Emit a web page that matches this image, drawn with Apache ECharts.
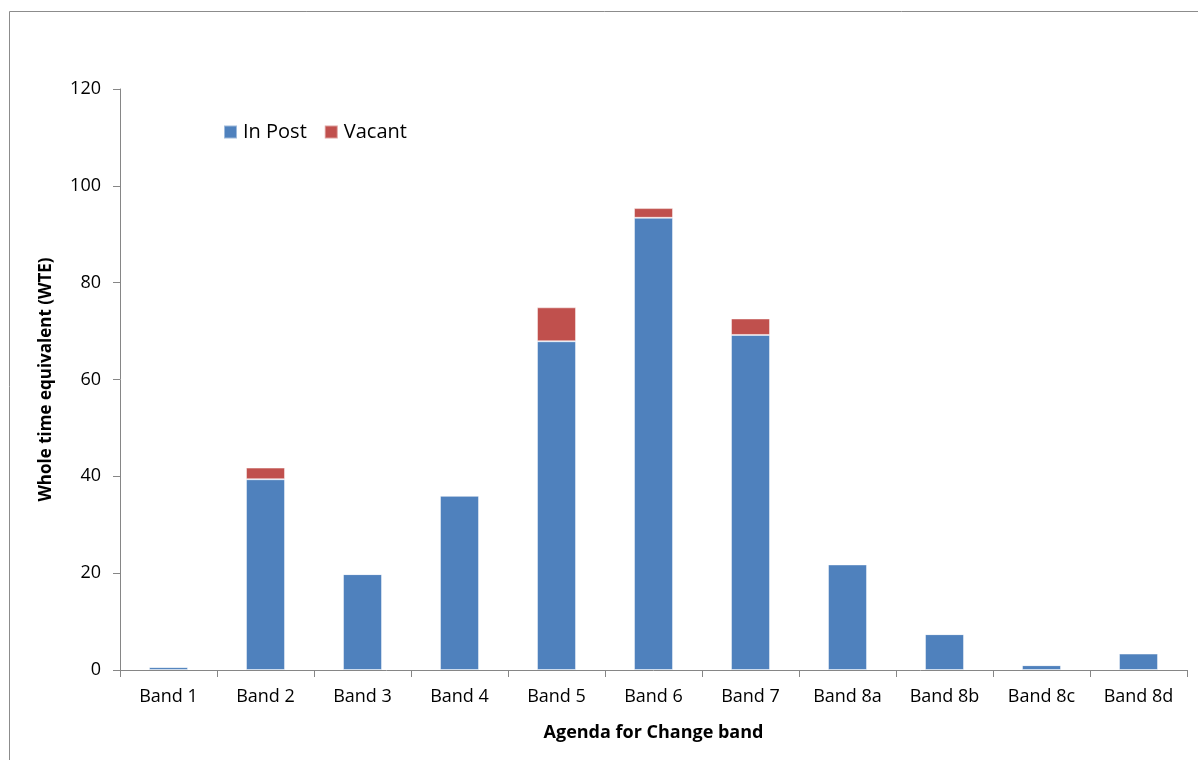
<!DOCTYPE html>
<html>
<head>
<meta charset="utf-8">
<script src="https://cdn.jsdelivr.net/npm/echarts@6/dist/echarts.min.js"></script>
<style>
  html, body { margin: 0; padding: 0; background: #fff; }
  #chart { width: 1198px; height: 760px; }
</style>
</head>
<body>
<div id="chart"></div>
<script>
// Staff whole time equivalent by Agenda for Change band
const bands = ['Band 1', 'Band 2', 'Band 3', 'Band 4', 'Band 5', 'Band 6', 'Band 7', 'Band 8a', 'Band 8b', 'Band 8c', 'Band 8d'];
const inPost = [0.6, 39.4, 19.8, 36.0, 67.9, 93.4, 69.2, 21.8, 7.4, 1.0, 3.4];
const vacant = [0, 2.4, 0, 0, 7.0, 2.0, 3.4, 0, 0, 0, 0];
const yTicks = { min: 0, max: 120, interval: 20 };

const FONT = '"Open Sans", Lato, sans-serif';
const axisGray = '#868686';

const chart = echarts.init(document.getElementById('chart'), null, { renderer: 'canvas' });

chart.setOption({
  backgroundColor: '#ffffff',
  animation: false,
  textStyle: { fontFamily: FONT },
  graphic: [{
    type: 'rect',
    shape: { x: 9.5, y: 11.5, width: 1220, height: 800 },
    style: { fill: 'none', stroke: '#8c8c8c', lineWidth: 1 },
    silent: true
  }],
  legend: {
    left: 223,
    top: 122,
    padding: 0,
    itemWidth: 13,
    itemHeight: 13,
    itemGap: 17,
    icon: 'rect',
    textStyle: { fontFamily: FONT, fontSize: 20, color: '#000', padding: [0, 0, 0, 1] },
    data: ['In Post', 'Vacant']
  },
  grid: { left: 120, right: 11, top: 89, bottom: 90, containLabel: false },
  xAxis: {
    type: 'category',
    data: bands,
    boundaryGap: true,
    name: 'Agenda for Change band',
    nameLocation: 'middle',
    nameGap: 54,
    nameTextStyle: { fontFamily: FONT, fontSize: 18, fontWeight: 'bold', color: '#000' },
    axisLine: { lineStyle: { color: axisGray, width: 1 } },
    axisTick: { show: true, alignWithLabel: false, length: 7, lineStyle: { color: axisGray } },
    axisLabel: { fontFamily: FONT, fontSize: 18, color: '#000', margin: 18 }
  },
  yAxis: {
    type: 'value',
    min: yTicks.min,
    max: yTicks.max,
    interval: yTicks.interval,
    name: 'Whole time equivalent (WTE)',
    nameLocation: 'middle',
    nameGap: 65,
    nameRotate: 90,
    nameTextStyle: { fontFamily: FONT, fontSize: 17, fontWeight: 'bold', color: '#000' },
    axisLine: { show: true, lineStyle: { color: axisGray, width: 1 } },
    axisTick: { show: true, length: 7, lineStyle: { color: axisGray } },
    splitLine: { show: false },
    axisLabel: { fontFamily: FONT, fontSize: 18, color: '#000', margin: 19 }
  },
  series: [
    {
      name: 'In Post',
      type: 'bar',
      stack: 'wte',
      barWidth: 39,
      data: inPost,
      itemStyle: { color: '#4F81BD', borderColor: 'rgba(255,255,255,0.45)', borderWidth: 1 }
    },
    {
      name: 'Vacant',
      type: 'bar',
      stack: 'wte',
      barWidth: 39,
      data: vacant,
      itemStyle: { color: '#C0504D', borderColor: 'rgba(255,255,255,0.45)', borderWidth: 1 }
    }
  ]
});
</script>
</body>
</html>
